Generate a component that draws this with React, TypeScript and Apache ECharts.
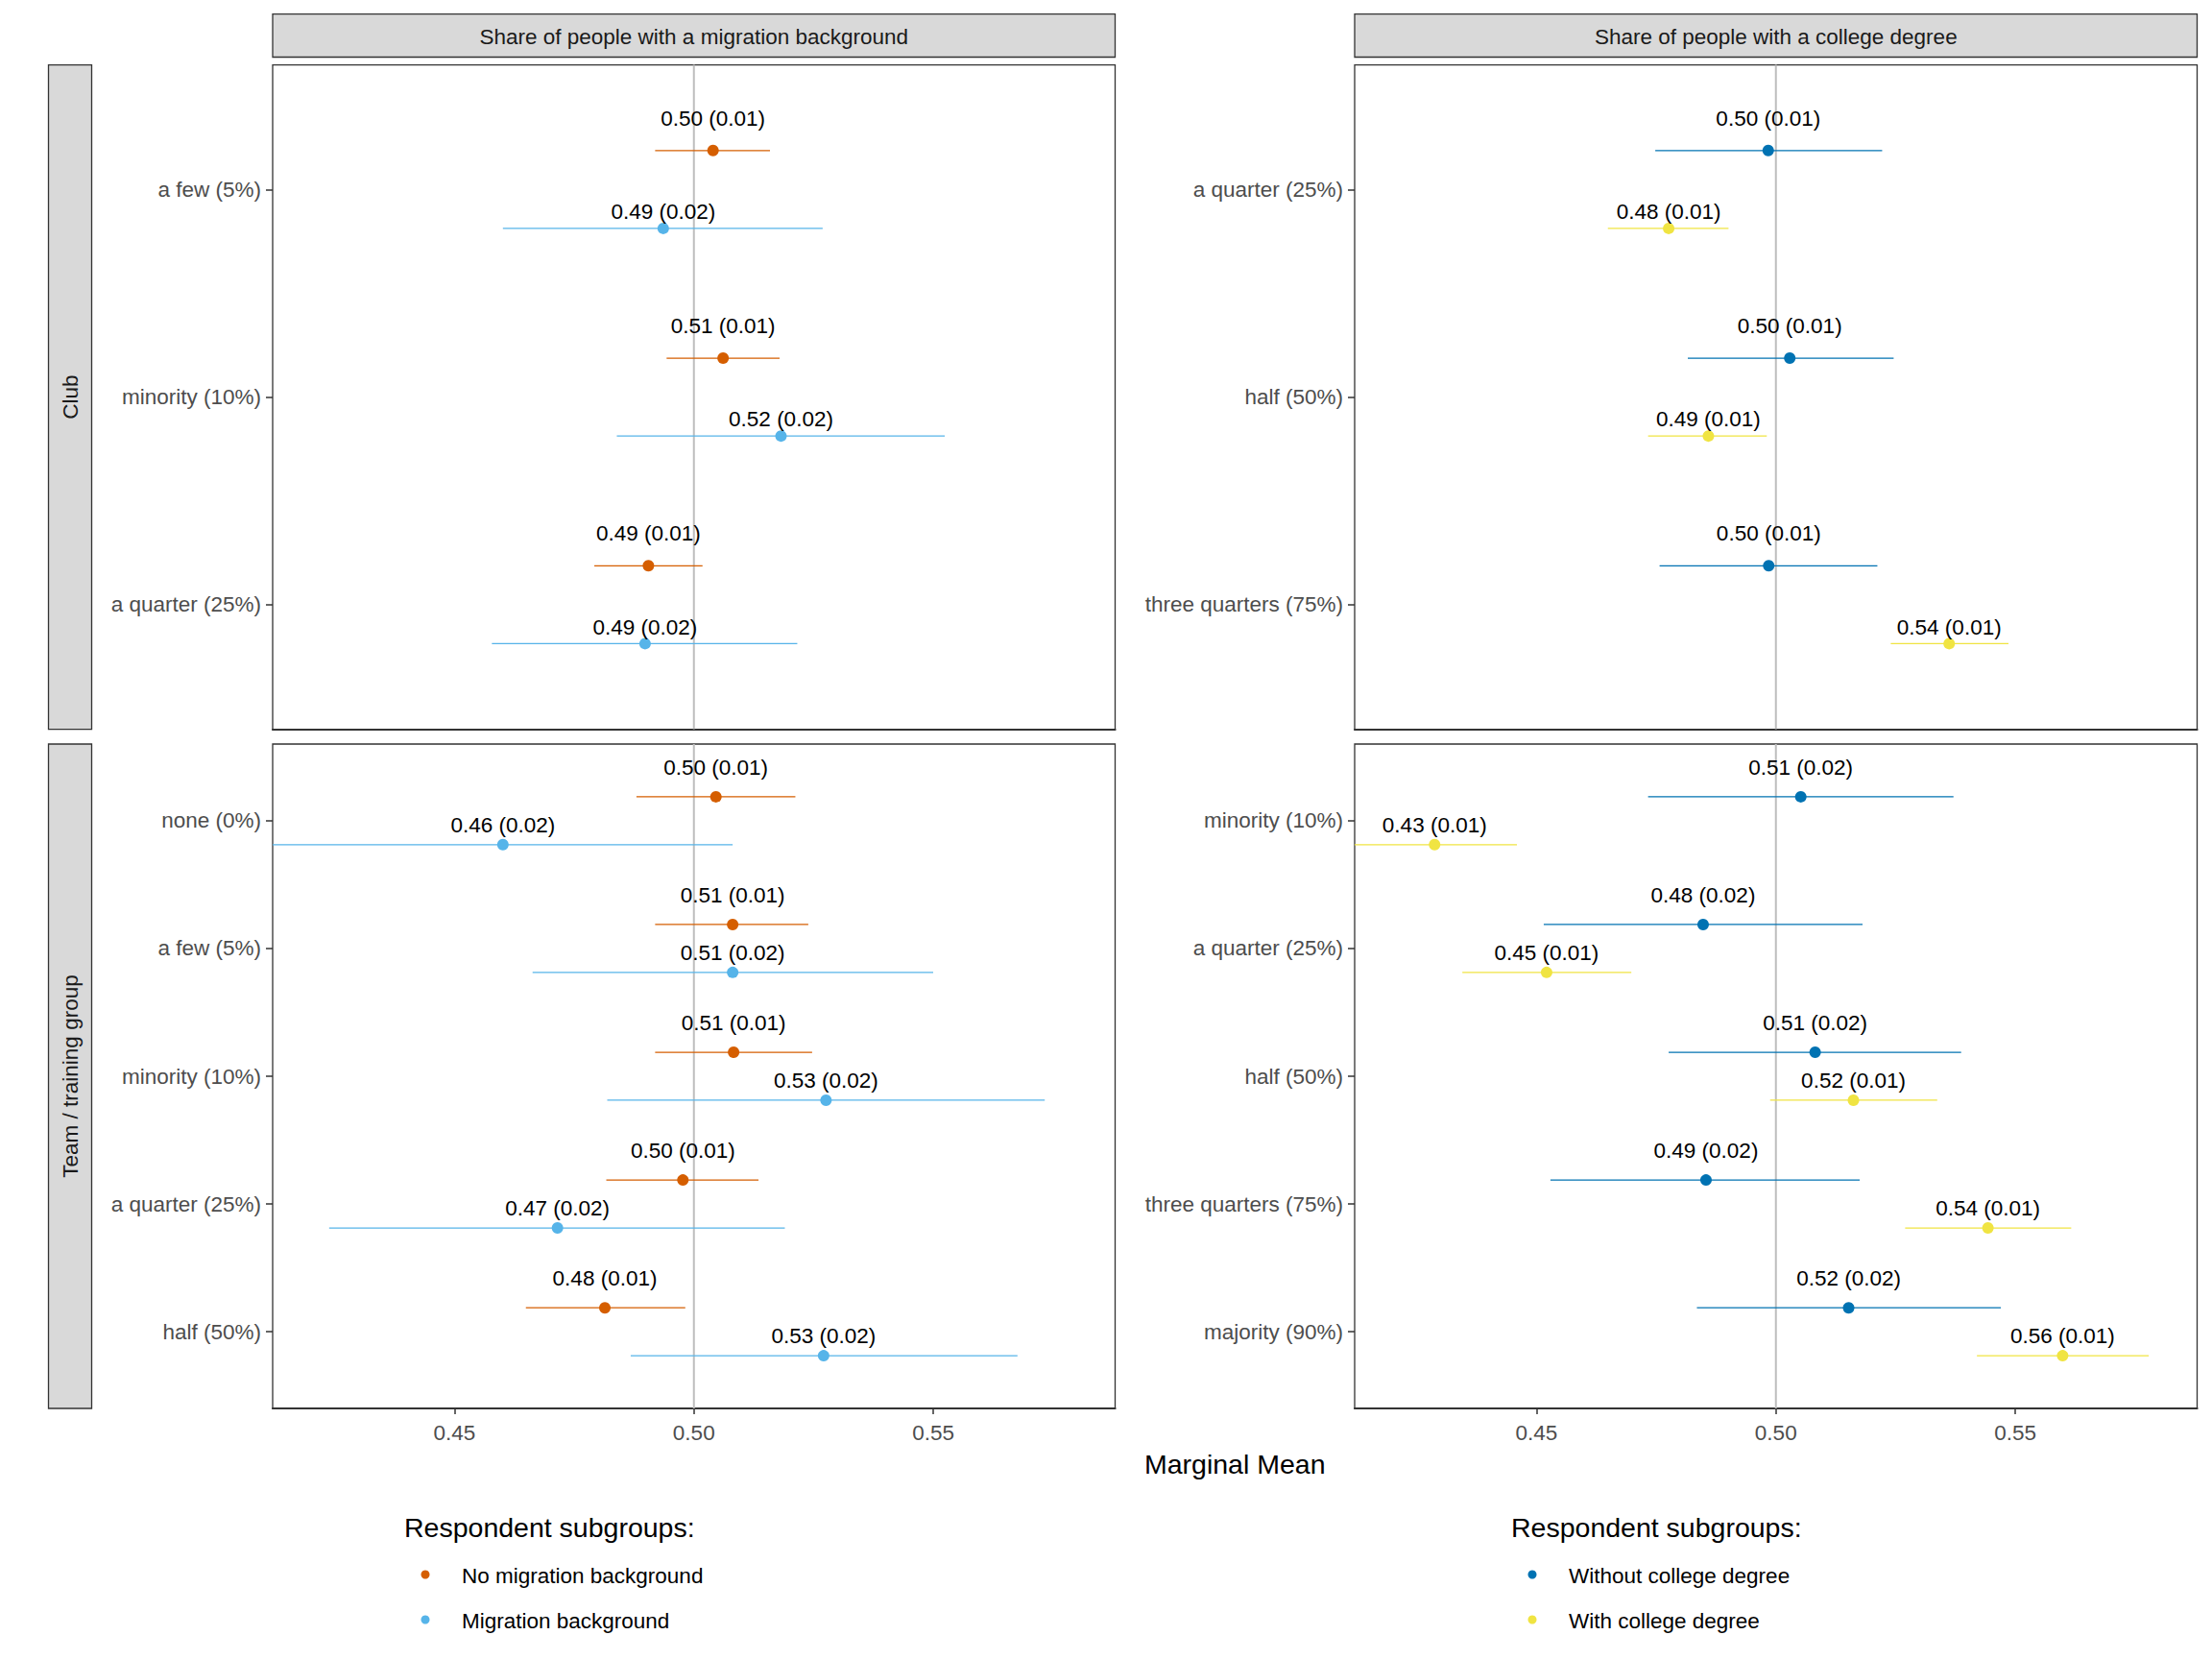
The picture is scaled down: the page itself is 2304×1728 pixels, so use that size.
import React, { useEffect, useRef } from "react";
import * as echarts from "echarts";

// ---------- categories ----------
const clubMigCats = ["a few (5%)", "minority (10%)", "a quarter (25%)"];
const clubEduCats = ["a quarter (25%)", "half (50%)", "three quarters (75%)"];
const teamMigCats = ["none (0%)", "a few (5%)", "minority (10%)", "a quarter (25%)", "half (50%)"];
const teamEduCats = ["minority (10%)", "a quarter (25%)", "half (50%)", "three quarters (75%)", "majority (90%)"];

// ---------- Club x migration background ----------
const clubNoMigMean = [0.504, 0.5061, 0.4905];
const clubNoMigLo = [0.4919, 0.4943, 0.4792];
const clubNoMigHi = [0.5159, 0.5179, 0.5018];
const clubNoMigSe = [0.01, 0.01, 0.01];
const clubMigMean = [0.4936, 0.5182, 0.4898];
const clubMigLo = [0.4601, 0.4839, 0.4578];
const clubMigHi = [0.5269, 0.5524, 0.5216];
const clubMigSe = [0.02, 0.02, 0.02];

// ---------- Club x college degree ----------
const clubNoColMean = [0.4984, 0.5029, 0.4985];
const clubNoColLo = [0.4748, 0.4816, 0.4757];
const clubNoColHi = [0.5222, 0.5246, 0.5212];
const clubNoColSe = [0.01, 0.01, 0.01];
const clubColMean = [0.4776, 0.4859, 0.5362];
const clubColLo = [0.4649, 0.4733, 0.524];
const clubColHi = [0.4901, 0.4981, 0.5486];
const clubColSe = [0.01, 0.01, 0.01];

// ---------- Team x migration background ----------
const teamNoMigMean = [0.5046, 0.5081, 0.5083, 0.4977, 0.4814];
const teamNoMigLo = [0.488, 0.4919, 0.4919, 0.4817, 0.4649];
const teamNoMigHi = [0.5212, 0.5239, 0.5247, 0.5135, 0.4982];
const teamNoMigSe = [0.01, 0.01, 0.01, 0.01, 0.01];
const teamMigMean = [0.4601, 0.5081, 0.5276, 0.4715, 0.5271];
const teamMigLo = [0.4118, 0.4663, 0.4819, 0.4238, 0.4868];
const teamMigHi = [0.5081, 0.55, 0.5733, 0.519, 0.5676];
const teamMigSe = [0.02, 0.02, 0.02, 0.02, 0.02];

// ---------- Team x college degree ----------
const teamNoColMean = [0.5052, 0.4848, 0.5082, 0.4854, 0.5152];
const teamNoColLo = [0.4733, 0.4515, 0.4776, 0.4529, 0.4835];
const teamNoColHi = [0.5371, 0.5181, 0.5387, 0.5175, 0.547];
const teamNoColSe = [0.02, 0.02, 0.02, 0.02, 0.02];
const teamColMean = [0.4287, 0.4521, 0.5162, 0.5443, 0.5599];
const teamColLo = [0.4115, 0.4345, 0.4988, 0.527, 0.542];
const teamColHi = [0.4459, 0.4698, 0.5337, 0.5617, 0.5779];
const teamColSe = [0.01, 0.01, 0.01, 0.01, 0.01];

const xTicks = [0.45, 0.5, 0.55];
const refValue = 0.5;

const facetCols = ["Share of people with a migration background", "Share of people with a college degree"];
const facetRows = ["Club", "Team / training group"];
const legendTitle = "Respondent subgroups:";
const migGroups = ["No migration background", "Migration background"];
const eduGroups = ["Without college degree", "With college degree"];
const xTitle = "Marginal Mean";

const C_NOMIG = "#D55E00";
const C_MIG = "#56B4E9";
const C_NOCOL = "#0072B2";
const C_COL = "#F0E442";

const FONT = "'Liberation Sans', Arial, Helvetica, sans-serif";
const DODGE_POINT = 0.1875;
const DODGE_LABEL = 0.225;
const LABEL_RAISE = 25.5;

type Group = { name: string; color: string; mean: number[]; lo: number[]; hi: number[]; se: number[]; side: number };
type Panel = { cats: string[]; groups: Group[] };

const panels: Panel[] = [
  {
    cats: clubMigCats,
    groups: [
      { name: migGroups[0], color: C_NOMIG, mean: clubNoMigMean, lo: clubNoMigLo, hi: clubNoMigHi, se: clubNoMigSe, side: -1 },
      { name: migGroups[1], color: C_MIG, mean: clubMigMean, lo: clubMigLo, hi: clubMigHi, se: clubMigSe, side: 1 },
    ],
  },
  {
    cats: clubEduCats,
    groups: [
      { name: eduGroups[0], color: C_NOCOL, mean: clubNoColMean, lo: clubNoColLo, hi: clubNoColHi, se: clubNoColSe, side: -1 },
      { name: eduGroups[1], color: C_COL, mean: clubColMean, lo: clubColLo, hi: clubColHi, se: clubColSe, side: 1 },
    ],
  },
  {
    cats: teamMigCats,
    groups: [
      { name: migGroups[0], color: C_NOMIG, mean: teamNoMigMean, lo: teamNoMigLo, hi: teamNoMigHi, se: teamNoMigSe, side: -1 },
      { name: migGroups[1], color: C_MIG, mean: teamMigMean, lo: teamMigLo, hi: teamMigHi, se: teamMigSe, side: 1 },
    ],
  },
  {
    cats: teamEduCats,
    groups: [
      { name: eduGroups[0], color: C_NOCOL, mean: teamNoColMean, lo: teamNoColLo, hi: teamNoColHi, se: teamNoColSe, side: -1 },
      { name: eduGroups[1], color: C_COL, mean: teamColMean, lo: teamColLo, hi: teamColHi, se: teamColSe, side: 1 },
    ],
  },
];

// layout (pixels)
const COL_X = [284, 1411];
const PANEL_W = 877.5;
const ROW_Y = [67.6, 775];
const PANEL_H = 692;

export default function App() {
  const ref = useRef<HTMLDivElement>(null);

  useEffect(() => {
    if (!ref.current) return;
    const chart = echarts.init(ref.current, undefined, { renderer: "svg" });

    const grids: any[] = [];
    const xAxes: any[] = [];
    const yAxes: any[] = [];
    const series: any[] = [];

    panels.forEach((p, i) => {
      const col = i % 2;
      const row = Math.floor(i / 2);
      const bottom = row === 1;
      const n = p.cats.length;
      const catIdx = p.cats.map((_, k) => k + 1);
      grids.push({
        left: COL_X[col],
        top: ROW_Y[row],
        width: PANEL_W,
        height: PANEL_H,
        show: true,
        borderColor: "#333333",
        borderWidth: 1.3,
        backgroundColor: "#ffffff",
        containLabel: false,
      });
      xAxes.push({
        type: "value",
        gridIndex: i,
        min: 0.412,
        max: 0.588,
        splitLine: { show: false },
        axisLine: { show: true, onZero: false, lineStyle: { color: "#333333", width: 2.2 } },
        axisTick: {
          show: bottom,
          length: 6,
          customValues: xTicks,
          lineStyle: { color: "#333333", width: 1.5 },
        },
        axisLabel: {
          show: bottom,
          customValues: xTicks,
          formatter: (v: number) => v.toFixed(2),
          color: "#4D4D4D",
          fontSize: 22.5,
          fontFamily: FONT,
          margin: 14,
        },
      });
      yAxes.push({
        type: "value",
        gridIndex: i,
        min: 0.4,
        max: n + 0.6,
        inverse: true,
        splitLine: { show: false },
        axisLine: { show: false },
        axisTick: {
          show: true,
          length: 7,
          customValues: catIdx,
          lineStyle: { color: "#333333", width: 1.5 },
        },
        axisLabel: {
          customValues: catIdx,
          formatter: (v: number) => p.cats[Math.round(v) - 1] ?? "",
          color: "#4D4D4D",
          fontSize: 22.5,
          fontFamily: FONT,
          margin: 12,
        },
      });

      // reference line at 0.5
      series.push({
        type: "custom",
        xAxisIndex: i,
        yAxisIndex: i,
        silent: true,
        z: 1,
        data: [[refValue, 1]],
        encode: { x: 0, y: 1 },
        renderItem: (params: any, api: any) => {
          const cs = params.coordSys;
          const pt = api.coord([api.value(0), api.value(1)]);
          return {
            type: "line",
            shape: { x1: pt[0], y1: cs.y, x2: pt[0], y2: cs.y + cs.height },
            style: { stroke: "#BEBEBE", lineWidth: 2 },
          };
        },
      });

      p.groups.forEach((g) => {
        // error bars
        series.push({
          type: "custom",
          name: g.name,
          xAxisIndex: i,
          yAxisIndex: i,
          silent: true,
          z: 2,
          data: g.mean.map((_, k) => [g.lo[k], g.hi[k], k + 1 + g.side * DODGE_POINT]),
          encode: { x: [0, 1], y: 2 },
          renderItem: (params: any, api: any) => {
            const cs = params.coordSys;
            const a = api.coord([api.value(0), api.value(2)]);
            const b = api.coord([api.value(1), api.value(2)]);
            const x1 = Math.max(cs.x, Math.min(cs.x + cs.width, a[0]));
            const x2 = Math.max(cs.x, Math.min(cs.x + cs.width, b[0]));
            return {
              type: "line",
              shape: { x1, y1: a[1], x2, y2: b[1] },
              style: { stroke: g.color, lineWidth: 1.3 },
            };
          },
        });
        // points
        series.push({
          type: "scatter",
          name: g.name,
          xAxisIndex: i,
          yAxisIndex: i,
          z: 3,
          symbol: "circle",
          symbolSize: 12,
          itemStyle: { color: g.color, opacity: 1 },
          data: g.mean.map((m, k) => [m, k + 1 + g.side * DODGE_POINT]),
        });
        // value labels
        const texts = g.mean.map((m, k) => `${m.toFixed(2)} (${g.se[k].toFixed(2)})`);
        series.push({
          type: "custom",
          xAxisIndex: i,
          yAxisIndex: i,
          silent: true,
          z: 4,
          data: g.mean.map((m, k) => [m, k + 1 + g.side * DODGE_LABEL, k]),
          encode: { x: 0, y: 1 },
          renderItem: (params: any, api: any) => {
            const pt = api.coord([api.value(0), api.value(1)]);
            return {
              type: "text",
              x: pt[0],
              y: pt[1] - LABEL_RAISE,
              style: {
                text: texts[api.value(2)],
                fill: "#000000",
                fontSize: 22.5,
                fontFamily: FONT,
                align: "center",
                verticalAlign: "middle",
              },
            };
          },
        });
      });
    });

    const graphic: any[] = [];
    // column strips
    facetCols.forEach((t, c) => {
      graphic.push({
        type: "rect",
        silent: true,
        shape: { x: COL_X[c], y: 14.7, width: PANEL_W, height: 44.8 },
        style: { fill: "#D9D9D9", stroke: "#333333", lineWidth: 1.3 },
      });
      graphic.push({
        type: "text",
        silent: true,
        x: COL_X[c] + PANEL_W / 2,
        y: 38,
        style: {
          text: t,
          fill: "#1A1A1A",
          fontSize: 22.5,
          fontFamily: FONT,
          align: "center",
          verticalAlign: "middle",
          textAlign: "center",
          textVerticalAlign: "middle",
        },
      });
    });
    // row strips
    facetRows.forEach((t, r) => {
      graphic.push({
        type: "rect",
        silent: true,
        shape: { x: 50.5, y: ROW_Y[r], width: 45, height: PANEL_H },
        style: { fill: "#D9D9D9", stroke: "#333333", lineWidth: 1.3 },
      });
      graphic.push({
        type: "text",
        silent: true,
        x: 73,
        y: ROW_Y[r] + PANEL_H / 2,
        rotation: Math.PI / 2,
        style: {
          text: t,
          fill: "#1A1A1A",
          fontSize: 22.5,
          fontFamily: FONT,
          align: "center",
          verticalAlign: "middle",
          textAlign: "center",
          textVerticalAlign: "middle",
        },
      });
    });
    // x title
    graphic.push({
      type: "text",
      silent: true,
      x: (COL_X[0] + COL_X[1] + PANEL_W) / 2,
      y: 1525,
      style: {
        text: xTitle,
        fill: "#000000",
        fontSize: 28.5,
        fontFamily: FONT,
        align: "center",
        verticalAlign: "middle",
        textAlign: "center",
        textVerticalAlign: "middle",
      },
    });
    // legends
    const legends = [
      { x: 421, names: migGroups, colors: [C_NOMIG, C_MIG] },
      { x: 1574, names: eduGroups, colors: [C_NOCOL, C_COL] },
    ];
    legends.forEach((lg) => {
      graphic.push({
        type: "text",
        silent: true,
        x: lg.x,
        y: 1591,
        style: {
          text: legendTitle,
          fill: "#000000",
          fontSize: 28.5,
          fontFamily: FONT,
          align: "left",
          verticalAlign: "middle",
          textAlign: "left",
          textVerticalAlign: "middle",
        },
      });
      lg.names.forEach((nm, k) => {
        const cy = 1640 + k * 47;
        graphic.push({
          type: "circle",
          silent: true,
          shape: { cx: lg.x + 22, cy, r: 4.5 },
          style: { fill: lg.colors[k] },
        });
        graphic.push({
          type: "text",
          silent: true,
          x: lg.x + 60,
          y: cy + 1,
          style: {
            text: nm,
            fill: "#000000",
            fontSize: 22.5,
            fontFamily: FONT,
            align: "left",
            verticalAlign: "middle",
            textAlign: "left",
            textVerticalAlign: "middle",
          },
        });
      });
    });

    chart.setOption({
      animation: false,
      backgroundColor: "#ffffff",
      textStyle: { fontFamily: FONT },
      grid: grids,
      xAxis: xAxes,
      yAxis: yAxes,
      series,
      graphic,
    });

    return () => {
      chart.dispose();
    };
  }, []);

  return (
    <div
      ref={ref}
      style={{ position: "fixed", left: 0, top: 0, width: 2304, height: 1728, background: "#ffffff" }}
    />
  );
}
